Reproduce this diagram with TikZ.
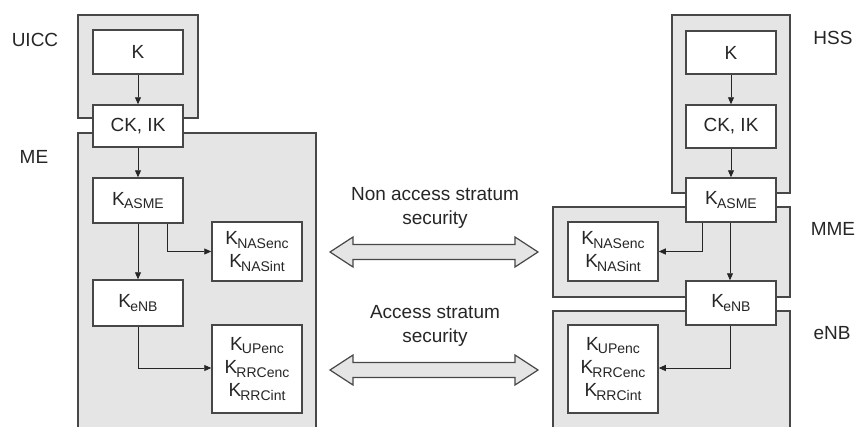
\documentclass[tikz,border=0pt]{standalone}
\usepackage{fontspec}
\setmainfont{Liberation Sans}
\usetikzlibrary{arrows.meta}
\newcommand{\Ksub}[1]{K\kern-0.8pt\raisebox{-3.6pt}{\fontsize{14}{14}\selectfont #1}}
\begin{document}
\begin{tikzpicture}[x=1pt,y=-1pt,
  font=\fontsize{19}{23.3}\selectfont,
  container/.style={draw=black!72, line width=1.6pt, fill=black!10},
  keybox/.style={draw=black!72, line width=1.5pt, fill=white,
     minimum width=90pt, inner sep=0pt, align=center, text=black!85},
  lbl/.style={text=black!85, inner sep=0pt},
  conn/.style={draw=black!85, line width=0.9pt, -{Triangle[length=7pt,width=6pt]}},
  bigarrow/.style={draw=black!72, line width=1.2pt, fill=black!10, line join=miter}
]
\useasboundingbox (0,0) rectangle (857,426);
\clip (0,0) rectangle (857,426);

% containers
\draw[container] (78,15) rectangle (198,118);
\draw[container] (78,133) rectangle (316,445);
\draw[container] (672,15) rectangle (790,193);
\draw[container] (553,207) rectangle (790,297);
\draw[container] (553,311) rectangle (790,445);

% left boxes
\node[keybox, minimum height=44pt] (K1) at (138,52) {K};
\node[keybox, minimum height=42pt] (CK1) at (138,126) {CK, IK};
\node[keybox, minimum height=45pt] (AS1) at (138,200.5) {\Ksub{ASME}};
\node[keybox, minimum height=59pt] (NAS1) at (257,251.5) {\Ksub{NASenc}\\\Ksub{NASint}};
\node[keybox, minimum height=46pt] (EN1) at (138,303) {\Ksub{eNB}};
\node[keybox, minimum height=88pt] (UP1) at (257,369) {\Ksub{UPenc}\\\Ksub{RRCenc}\\\Ksub{RRCint}};

% right boxes
\node[keybox, minimum height=43pt] (K2) at (731,52.5) {K};
\node[keybox, minimum height=43pt] (CK2) at (731,126.5) {CK, IK};
\node[keybox, minimum height=44pt] (AS2) at (731,200) {\Ksub{ASME}};
\node[keybox, minimum height=59pt] (NAS2) at (613,251.5) {\Ksub{NASenc}\\\Ksub{NASint}};
\node[keybox, minimum height=44pt] (EN2) at (731,303) {\Ksub{eNB}};
\node[keybox, minimum height=88pt] (UP2) at (613,369) {\Ksub{UPenc}\\\Ksub{RRCenc}\\\Ksub{RRCint}};

% labels
\node[lbl] (lUICC) at (35,40) {UICC};
\node[lbl] (lME) at (34,157) {ME};
\node[lbl] (lHSS) at (833,38) {HSS};
\node[lbl] (lMME) at (833,229) {MME};
\node[lbl] (leNB) at (832,333) {eNB};

% connectors left
\draw[conn] (K1.south) -- (CK1.north);
\draw[conn] (CK1.south) -- (AS1.north);
\draw[conn] (AS1.south) -- (EN1.north);
\draw[conn] ([xshift=29pt]AS1.south) |- (NAS1.west);
\draw[conn] (EN1.south) |- ([yshift=1pt]UP1.west);

% connectors right
\draw[conn] (K2.south) -- (CK2.north);
\draw[conn] (CK2.south) -- (AS2.north);
\draw[conn] ([xshift=-1pt]AS2.south) -- ([xshift=-1pt]EN2.north);
\draw[conn] ([xshift=-29pt]AS2.south) |- (NAS2.east);
\draw[conn] ([xshift=-1pt]EN2.south) |- ([yshift=1pt]UP2.east);

% big double arrows
\draw[bigarrow] (330,252) -- (353,237) -- (353,244.5) -- (515,244.5) -- (515,237) -- (538,252)
  -- (515,267) -- (515,259.5) -- (353,259.5) -- (353,267) -- cycle;
\draw[bigarrow] (330,370) -- (353,355) -- (353,362.5) -- (515,362.5) -- (515,355) -- (538,370)
  -- (515,385) -- (515,377.5) -- (353,377.5) -- (353,385) -- cycle;

\node[lbl, align=center] (tNAS) at (435,208) {Non access stratum\\security};
\node[lbl, align=center] (tAS) at (435,326) {Access stratum\\security};
\end{tikzpicture}
\end{document}
